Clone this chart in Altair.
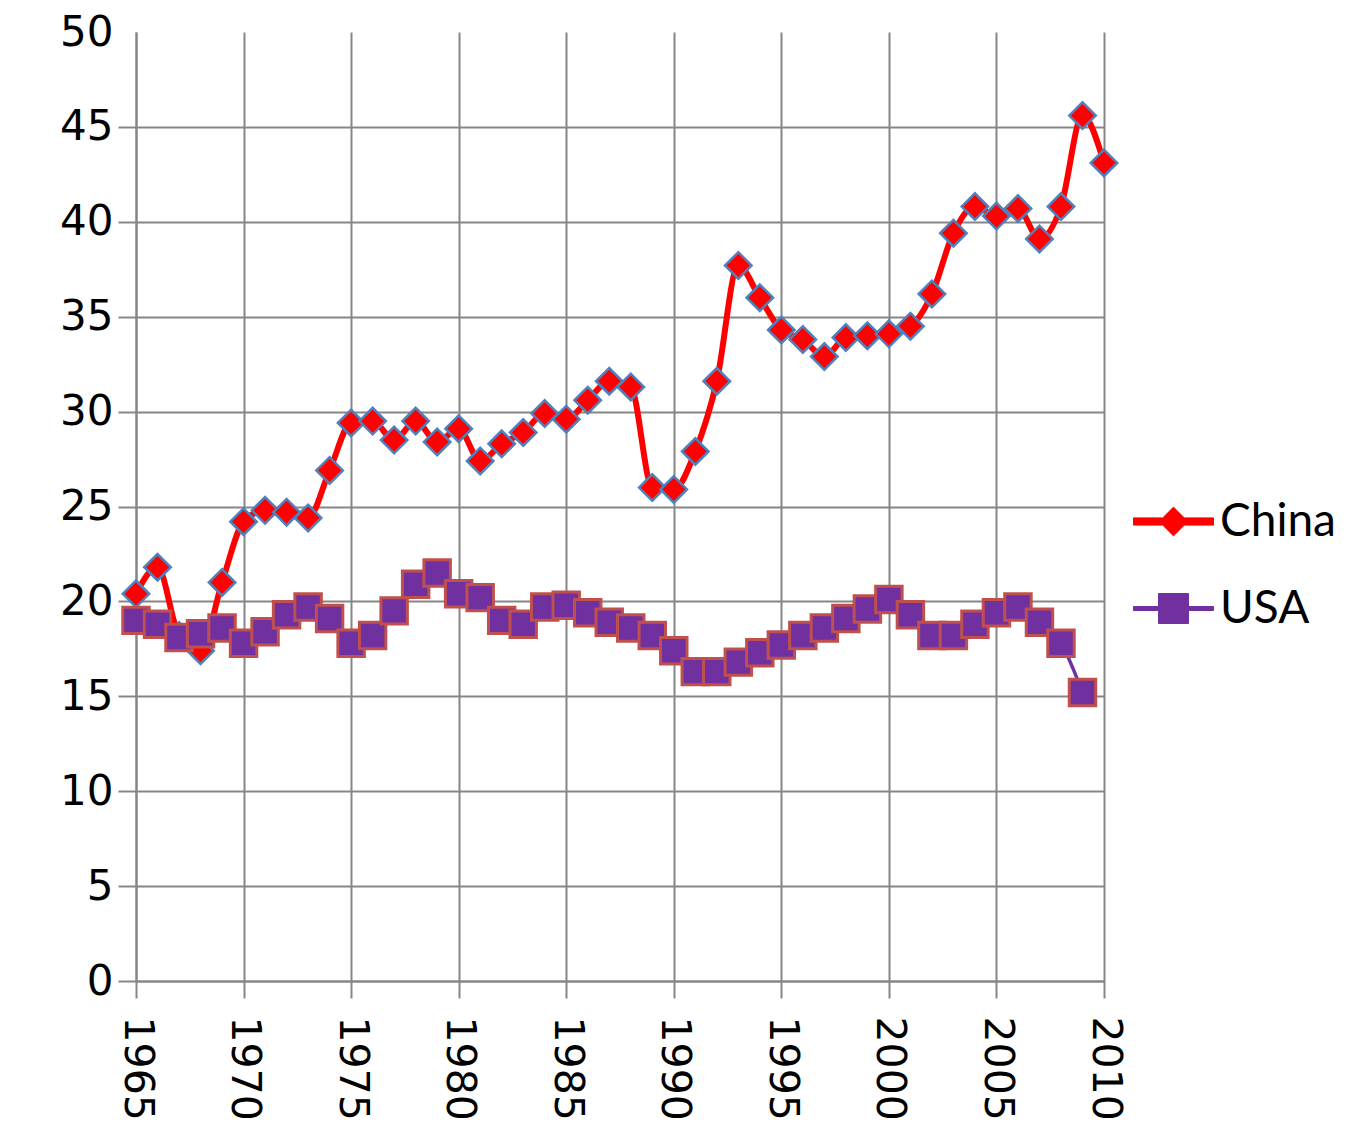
import altair as alt
import pandas as pd

years = list(range(1965, 2011))
china = [20.4, 21.8, 18.2, 17.4, 21.0, 24.2, 24.8, 24.7, 24.4, 26.9,
         29.4, 29.5, 28.5, 29.5, 28.4, 29.1, 27.4, 28.3, 28.9, 29.9,
         29.6, 30.6, 31.6, 31.3, 26.0, 25.9, 27.9, 31.6, 37.7, 36.0,
         34.3, 33.8, 32.9, 33.9, 34.0, 34.1, 34.5, 36.2, 39.4, 40.8,
         40.3, 40.7, 39.1, 40.8, 45.6, 43.1]
usa_years = list(range(1965, 2010))
usa = [19.0, 18.8, 18.1, 18.3, 18.6, 17.8, 18.4, 19.3, 19.7, 19.1,
       17.8, 18.2, 19.5, 20.9, 21.5, 20.4, 20.2, 19.0, 18.8, 19.7,
       19.8, 19.4, 18.9, 18.6, 18.2, 17.4, 16.3, 16.3, 16.8, 17.3,
       17.7, 18.2, 18.6, 19.1, 19.6, 20.1, 19.3, 18.2, 18.2, 18.8,
       19.4, 19.7, 18.9, 17.8, 15.2]
series_names = ["China", "USA"]
line_colors = ["#FF0000", "#7030A0"]
outline_colors = ["#4F81BD", "#C0504D"]
x_ticks = list(range(1965, 2011, 5))
y_ticks = list(range(0, 51, 5))

df = pd.concat([
    pd.DataFrame({"Year": years, "Value": china, "Series": series_names[0]}),
    pd.DataFrame({"Year": usa_years, "Value": usa, "Series": series_names[1]}),
], ignore_index=True)

GRID = "#868686"

# legend symbols: a line segment with the series marker on it
china_path = ("M-1,-0.09L-0.27,-0.09L0,-0.36L0.27,-0.09L1,-0.09L1,0.09"
              "L0.27,0.09L0,0.36L-0.27,0.09L-1,0.09Z")
usa_path = ("M-1,-0.05L-0.375,-0.05L-0.375,-0.375L0.375,-0.375L0.375,-0.05"
            "L1,-0.05L1,0.05L0.375,0.05L0.375,0.375L-0.375,0.375L-0.375,0.05"
            "L-1,0.05Z")

x = alt.X("Year:Q", scale=alt.Scale(domain=[1965, 2010], nice=False, zero=False),
          axis=alt.Axis(values=x_ticks, format="d", title=None, labelAngle=90,
                        labelFont="DejaVu Sans", labelFontSize=41,
                        labelColor="black", labelPadding=18,
                        tickSize=17, tickWidth=2, tickColor=GRID,
                        domainColor=GRID, domainWidth=2,
                        grid=True, gridColor=GRID, gridWidth=2))
y = alt.Y("Value:Q", scale=alt.Scale(domain=[0, 50], nice=False),
          axis=alt.Axis(values=y_ticks, title=None,
                        labelFont="DejaVu Sans", labelFontSize=42,
                        labelColor="black", labelPadding=5,
                        tickSize=18, tickWidth=2, tickColor=GRID,
                        tickOpacity={"condition": {"test": "datum.value == 50", "value": 0}, "value": 1},
                        gridOpacity={"condition": {"test": "datum.value == 50", "value": 0}, "value": 1},
                        domainColor=GRID, domainWidth=2,
                        grid=True, gridColor=GRID, gridWidth=2))


def legend_for(path, color, ly):
    return alt.Legend(title=None, orient="none", legendX=997, legendY=ly,
                      padding=0, labelFont="Lato", labelFontSize=46,
                      labelColor="black", labelOffset=6,
                      symbolType=path, symbolSize=6400,
                      symbolFillColor=color, symbolStrokeColor=color,
                      symbolStrokeWidth=1, symbolOpacity=1)


base = alt.Chart(df)

china_line = base.transform_filter("datum.Series == 'China'").mark_line(
    strokeWidth=6, interpolate="monotone").encode(
    x=x, y=y,
    stroke=alt.Stroke("Series:N",
                      scale=alt.Scale(domain=[series_names[0]], range=[line_colors[0]]),
                      legend=legend_for(china_path, line_colors[0], 449)))
usa_line = base.transform_filter("datum.Series == 'USA'").mark_line(
    strokeWidth=3.5, interpolate="monotone").encode(
    x=x, y=y,
    stroke=alt.Stroke("Series:N",
                      scale=alt.Scale(domain=[series_names[1]], range=[line_colors[1]]),
                      legend=legend_for(usa_path, line_colors[1], 536)))
china_pts = base.transform_filter("datum.Series == 'China'").mark_point(
    shape="diamond", filled=True, size=700, fill=line_colors[0],
    stroke=outline_colors[0], strokeWidth=2.5, opacity=1).encode(x=x, y=y)
usa_pts = base.transform_filter("datum.Series == 'USA'").mark_point(
    shape="square", filled=True, size=700, fill=line_colors[1],
    stroke=outline_colors[1], strokeWidth=3, opacity=1).encode(x=x, y=y)

chart = alt.layer(china_line, china_pts, usa_line, usa_pts).resolve_scale(
    stroke="independent").resolve_legend(stroke="independent").properties(
    width=968, height=949,
    padding={"left": 128, "top": 24, "right": 240, "bottom": 140},
    autosize=alt.AutoSizeParams(type="none"),
    background="white",
).configure_view(stroke=None)

chart.save("out.html", embed_options={"renderer": "svg", "actions": False})
